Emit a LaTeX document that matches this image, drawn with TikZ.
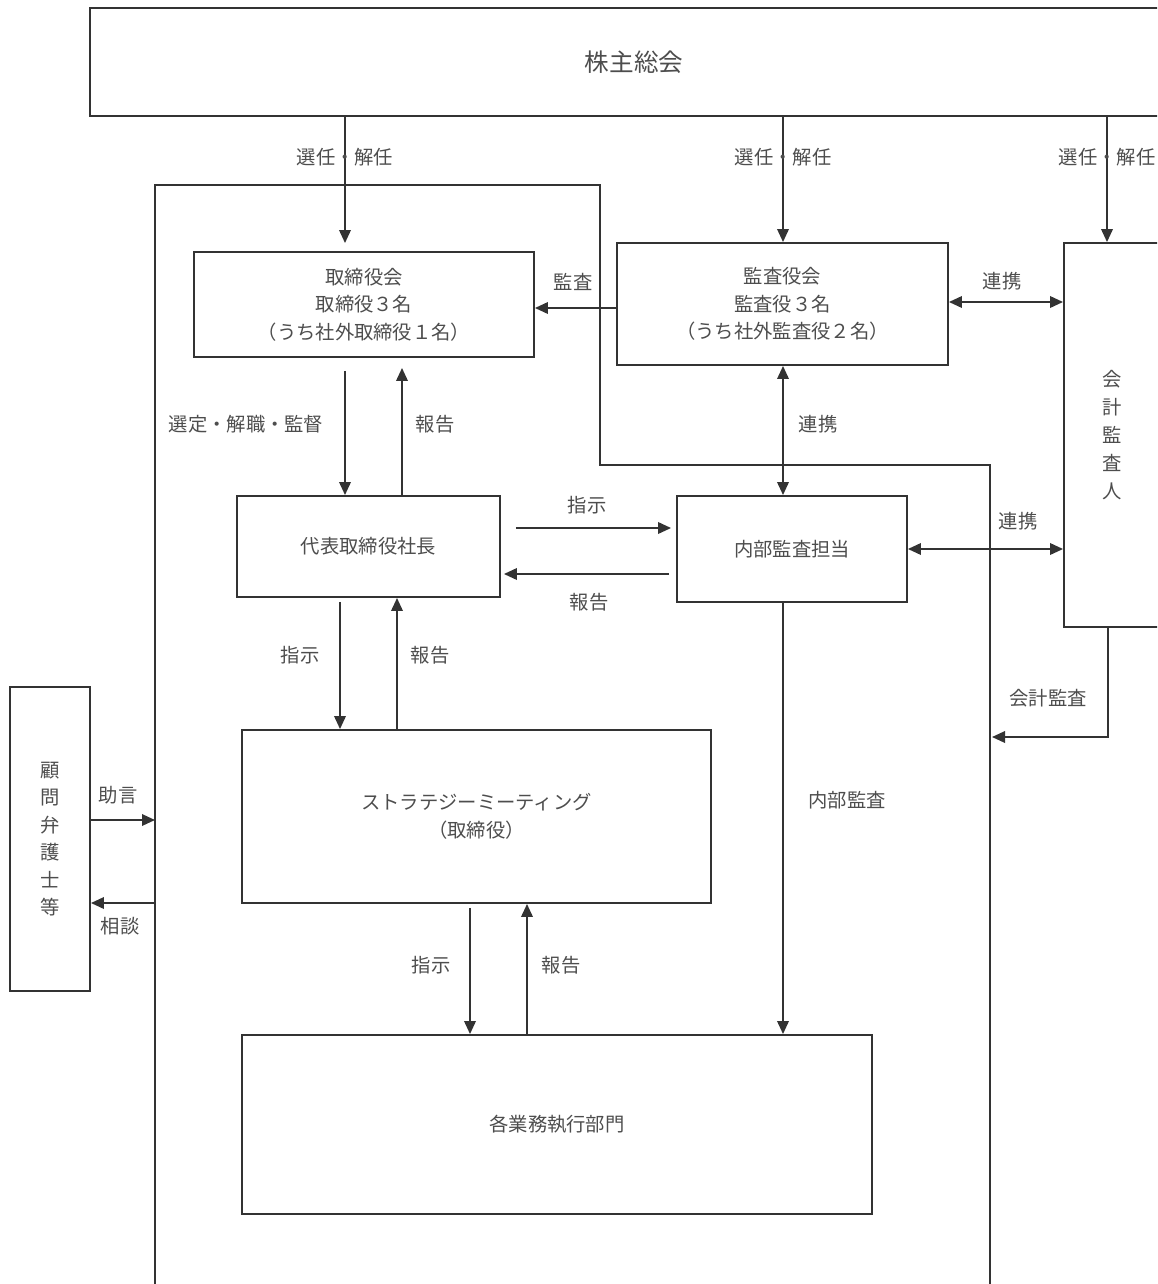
\documentclass[tikz,border=0pt]{standalone}
\usepackage{fontspec}
\setmainfont{Noto Sans CJK JP}
\usepackage{xcolor}
\usetikzlibrary{arrows.meta}
\definecolor{linegray}{HTML}{333333}
\definecolor{textgray}{HTML}{4D4D4D}

\begin{document}
\begin{tikzpicture}[x=0.02cm,y=-0.02cm]
        % Define styles
        \tikzset{
            box/.style={rectangle, draw=linegray, line width=1.1pt, text=textgray, align=center, inner sep=0pt, font=\fontsize{11}{15.6}\selectfont},
            tag/.style={text=textgray, inner sep=0pt, font=\fontsize{11}{13}\selectfont},
            arrow/.style={-{Triangle[length=0.26cm,width=0.23cm]}, draw=linegray, line width=1.1pt},
            twoway/.style={{Triangle[length=0.26cm,width=0.23cm]}-{Triangle[length=0.26cm,width=0.23cm]}, draw=linegray, line width=1.1pt}
        }
        \useasboundingbox (0,0) rectangle (1157,1284);
        \clip (0,0) rectangle (1157,1284);

        % Nodes
        \node[box, minimum width=21.76cm, minimum height=2.16cm, font=\fontsize{14}{16}\selectfont] (shareholders) at (634,62) {株主総会};
        \node[box, minimum width=6.8cm, minimum height=2.1cm] (board) at (364,304.5) {取締役会\\取締役３名\\（うち社外取締役１名）};
        \node[box, minimum width=6.62cm, minimum height=2.44cm] (auditors) at (782.5,304) {監査役会\\監査役３名\\（うち社外監査役２名）};
        \node[box, minimum width=1.92cm, minimum height=7.68cm, font=\fontsize{11}{16}\selectfont] (accountant) at (1112,435) {会\\計\\監\\査\\人};
        \node[box, minimum width=5.26cm, minimum height=2.02cm] (president) at (368.5,546.5) {代表取締役社長};
        \node[box, minimum width=4.6cm, minimum height=2.12cm] (internal) at (792,549) {内部監査担当};
        \node[box, minimum width=9.38cm, minimum height=3.46cm] (strategy) at (476.5,816.5) {ストラテジーミーティング\\（取締役）};
        \node[box, minimum width=12.6cm, minimum height=3.58cm] (departments) at (557,1124.5) {各業務執行部門};
        \node[box, minimum width=1.6cm, minimum height=6.08cm, font=\fontsize{11}{15.6}\selectfont] (counsel) at (50,839) {顧\\問\\弁\\護\\士\\等};

        % Company frame
        \draw[draw=linegray, line width=1.1pt] (155,1300) -- (155,185) -- (600,185) -- (600,465) -- (990,465) -- (990,1300);
        \coordinate (frame_audit) at (992,737);
        \coordinate (frame_advice) at (155,820);
        \coordinate (frame_consult) at (155,903);

        % Arrows
        \draw[arrow, shorten >=0.16cm] (shareholders.south -| 345,0) -- (board.north -| 345,0);
        \draw[arrow] (shareholders.south -| 783,0) -- (auditors.north -| 783,0);
        \draw[arrow] (shareholders.south -| 1107,0) -- (accountant.north -| 1107,0);
        \draw[arrow] (auditors.west |- 0,308) -- (board.east |- 0,308);
        \draw[twoway] (auditors.east |- 0,302) -- (accountant.west |- 0,302);
        \draw[twoway] (auditors.south -| 783,0) -- (internal.north -| 783,0);
        \draw[twoway] (internal.east) -- (accountant.west |- internal.east);
        \draw[arrow, shorten <=0.26cm] (board.south -| 345,0) -- (president.north -| 345,0);
        \draw[arrow, shorten >=0.2cm] (president.north -| 402,0) -- (board.south -| 402,0);
        \draw[arrow, shorten <=0.3cm, shorten >=0.1cm] (president.east |- 0,528) -- (internal.west |- 0,528);
        \draw[arrow, shorten <=0.14cm, shorten >=0.06cm] (internal.west |- 0,574) -- (president.east |- 0,574);
        \draw[arrow, shorten <=0.08cm] (president.south -| 340,0) -- (strategy.north -| 340,0);
        \draw[arrow] (strategy.north -| 397,0) -- (president.south -| 397,0);
        \draw[arrow] (internal.south -| 783,0) -- (departments.north -| 783,0);
        \draw[arrow] (accountant.south -| 1108,0) |- (frame_audit);
        \draw[arrow, shorten <=0.08cm] (strategy.south -| 470,0) -- (departments.north -| 470,0);
        \draw[arrow] (departments.north -| 527,0) -- (strategy.south -| 527,0);
        \draw[arrow] (counsel.east |- frame_advice) -- (frame_advice);
        \draw[arrow] (frame_consult) -- (counsel.east |- frame_consult);

        % Labels
        \node[tag] (appoint_board) at (345,157) {選任・解任};
        \node[tag] (appoint_auditors) at (783,157) {選任・解任};
        \node[tag] (appoint_accountant) at (1107,157) {選任・解任};
        \node[tag] (audit_tag) at (573,282) {監査};
        \node[tag] (link_acc_tag) at (1002,281) {連携};
        \node[tag] (link_int_tag) at (818,424) {連携};
        \node[tag] (link_int_acc_tag) at (1018,521) {連携};
        \node[tag] (supervise_tag) at (246,424) {選定・解職・監督};
        \node[tag] (report_board_tag) at (435,424) {報告};
        \node[tag] (order_int_tag) at (587,505) {指示};
        \node[tag] (report_int_tag) at (589,602) {報告};
        \node[tag] (order_str_tag) at (300,655) {指示};
        \node[tag] (report_str_tag) at (430,655) {報告};
        \node[tag] (internal_audit_tag) at (847,800) {内部監査};
        \node[tag] (acc_audit_tag) at (1048,698) {会計監査};
        \node[tag] (order_dep_tag) at (431,965) {指示};
        \node[tag] (report_dep_tag) at (561,965) {報告};
        \node[tag] (advice_tag) at (118,795) {助言};
        \node[tag] (consult_tag) at (120,926) {相談};
    \end{tikzpicture}
\end{document}
